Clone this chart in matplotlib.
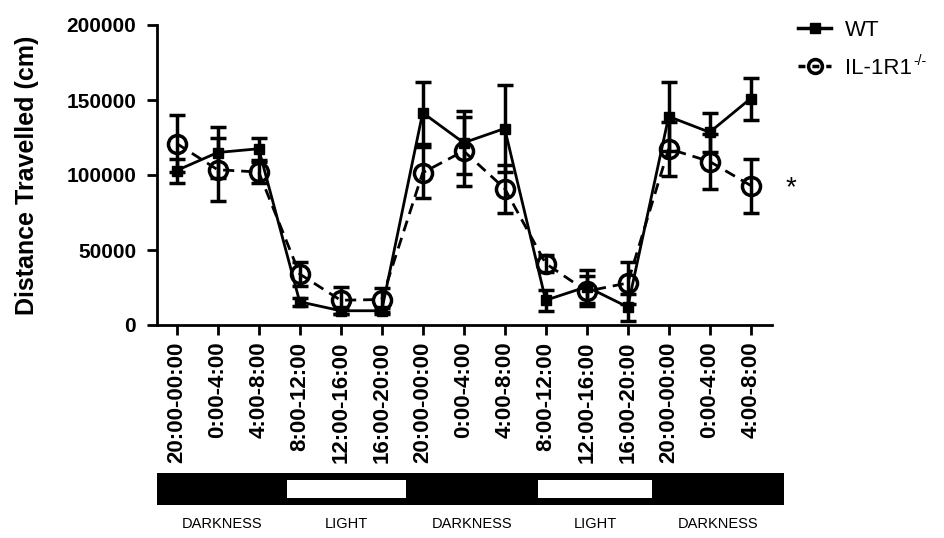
import matplotlib.pyplot as plt
from matplotlib.lines import Line2D
import numpy as np

plt.rcParams['font.family'] = ['Liberation Sans', 'DejaVu Sans']

# time windows (4 h bins) over the recording
periods = ['20:00-00:00', '0:00-4:00', '4:00-8:00', '8:00-12:00', '12:00-16:00',
           '16:00-20:00', '20:00-00:00', '0:00-4:00', '4:00-8:00', '8:00-12:00',
           '12:00-16:00', '16:00-20:00', '20:00-00:00', '0:00-4:00', '4:00-8:00']

wt_mean = [103000, 115000, 117500, 15500, 9500, 9500, 141500, 121500, 131000,
           16500, 25500, 12000, 139000, 128500, 151000]
wt_sem = [8000, 17000, 7500, 2500, 2000, 2000, 20500, 21000, 29000,
          7000, 11000, 9000, 23000, 13000, 14000]

ko_mean = [121000, 103500, 102000, 34000, 16500, 17000, 101500, 116000, 91000,
           41000, 22500, 28000, 117500, 109000, 93000]
ko_sem = [19000, 21000, 7000, 8000, 9000, 8000, 17000, 23000, 16000,
          5500, 10000, 14000, 18000, 18500, 18000]

# light/dark phases: (start, end, label, is_light) in bin units
phases = [(-0.48, 2.7, 'DARKNESS', False),
          (2.7, 5.6, 'LIGHT', True),
          (5.6, 8.8, 'DARKNESS', False),
          (8.8, 11.6, 'LIGHT', True),
          (11.6, 14.81, 'DARKNESS', False)]

x = np.arange(len(periods))

fig = plt.figure(figsize=(9.44, 5.38), dpi=100)
ax = fig.add_axes([157 / 944, 1 - 325 / 538, 615 / 944, 300 / 538])

ax.errorbar(x, wt_mean, yerr=wt_sem, color='black', lw=2, marker='s', ms=7,
            mfc='black', mec='black', capsize=6, capthick=2.5, elinewidth=2.5,
            zorder=3)
ax.errorbar(x, ko_mean, yerr=ko_sem, color='black', lw=2, ls=(0, (4, 2.5)),
            marker='o', ms=13, mfc='none', mec='black', mew=2.5,
            capsize=6, capthick=2.5, elinewidth=2.5, zorder=3)

ax.text(14.85, 91000, '*', fontsize=20, ha='left', va='center')

ax.set_xlim(-0.48, 14.52)
ax.set_ylim(0, 200000)
ax.set_yticks([0, 50000, 100000, 150000, 200000])
ax.set_yticklabels(['0', '50000', '100000', '150000', '200000'],
                   fontsize=15, fontweight='bold')
ax.set_xticks(x)
ax.set_xticklabels(periods, rotation=90, fontsize=16, fontweight='bold')
ax.set_ylabel('Distance Travelled (cm)', fontsize=18, fontweight='bold', labelpad=20)

for side in ['top', 'right']:
    ax.spines[side].set_visible(False)
for side in ['left', 'bottom']:
    ax.spines[side].set_linewidth(2)
ax.tick_params(width=2, length=7, direction='out')
ax.tick_params(axis='y', pad=8)
ax.tick_params(axis='x', pad=5)

# legend without the error bars
handles = [Line2D([], [], color='black', lw=2.5, marker='s', ms=7),
           Line2D([], [], color='black', lw=2.5, ls=(0, (2, 2)), marker='o', ms=10,
                  mfc='none', mew=2.5)]
leg = fig.legend(handles, ['WT', 'IL-1R1'], loc='upper left',
                 bbox_to_anchor=(778 / 944, 1.0), frameon=False, fontsize=16,
                 handlelength=1.5, handletextpad=0.6, labelspacing=0.75)

fig.canvas.draw()
renderer = fig.canvas.get_renderer()
ko_text = leg.get_texts()[1]
bb = ko_text.get_window_extent(renderer).transformed(fig.transFigure.inverted())
fig.text(bb.x1 + 0.002, bb.y1 - 0.006, '-/-', fontsize=10, ha='left', va='center')

# light/dark bar under the axis
bar = fig.add_axes([157 / 944, 1 - 505 / 538, 627 / 944, 32 / 538])
bar.set_xlim(-0.48, 14.81)
bar.set_ylim(0, 1)
bar.axis('off')
bar.axvspan(-0.48, 14.81, color='black')
for start, end, label, light in phases:
    if light:
        bar.fill_between([start, end], 0.22, 0.78, color='white', lw=0)
    bar.text((start + end) / 2, -0.6, label, ha='center', va='center',
             fontsize=10.5, clip_on=False)

fig.savefig('out.png', dpi=100)
